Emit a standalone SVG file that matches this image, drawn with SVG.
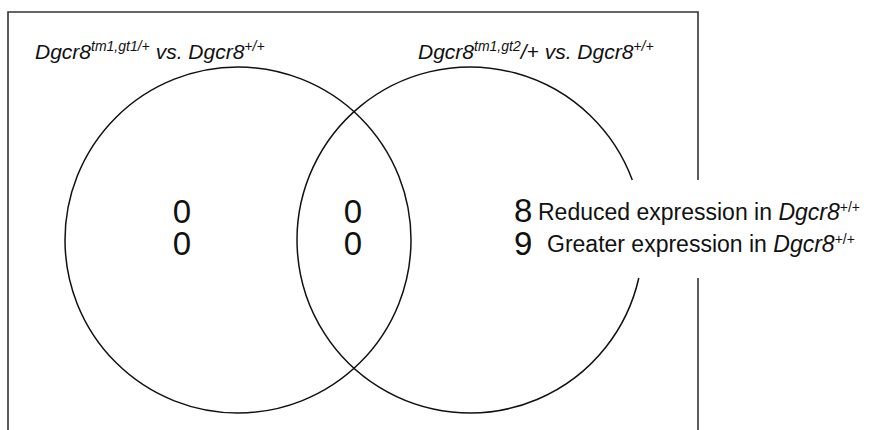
<svg xmlns="http://www.w3.org/2000/svg" width="870" height="430" viewBox="0 0 870 430">
<style>
.ln{fill:none;stroke:#111;stroke-width:1.5}
.box{fill:none;stroke:#333;stroke-width:1.6}
.t{font-family:"Liberation Sans",Arial,sans-serif;fill:#111}
.title{font-size:21px;font-style:italic}
.sup{font-size:14px}
.num{font-size:33px}
.lab{font-size:23px}
.it{font-style:italic}
</style>
<rect width="870" height="430" fill="#fff"/>
<g id="frame">
<path class="box" d="M8,432 V12 H698 V180 M698,278 V432"/>
</g>
<g id="circle-left">
<circle class="ln" cx="238" cy="240" r="173"/>
</g>
<g id="circle-right">
<path class="ln" d="M638.8,278 A173,173 0 1 1 632.3,180"/>
</g>
<g id="title-left">
<text class="t title" x="35" y="59">Dgcr8<tspan class="sup" dy="-8">tm1,gt1/+</tspan><tspan dy="8"> vs. Dgcr8</tspan><tspan class="sup" dy="-8">+/+</tspan></text>
</g>
<g id="title-right">
<text class="t title" x="418" y="59">Dgcr8<tspan class="sup" dy="-8">tm1,gt2</tspan><tspan dy="8">/+ vs. Dgcr8</tspan><tspan class="sup" dy="-8">+/+</tspan></text>
</g>
<g id="left-only">
<text class="t num" x="182" y="223" text-anchor="middle">0</text>
<text class="t num" x="182" y="255" text-anchor="middle">0</text>
</g>
<g id="overlap">
<text class="t num" x="353" y="223" text-anchor="middle">0</text>
<text class="t num" x="353" y="255" text-anchor="middle">0</text>
</g>
<g id="right-only">
<text class="t num" x="514" y="222">8</text>
<text class="t num" x="514" y="255">9</text>
<text class="t lab" x="538" y="220">Reduced expression in <tspan class="it">Dgcr8</tspan><tspan class="sup" dy="-8">+/+</tspan></text>
<text class="t lab" x="547" y="252">Greater expression in <tspan class="it">Dgcr8</tspan><tspan class="sup" dy="-8">+/+</tspan></text>
</g>
</svg>
